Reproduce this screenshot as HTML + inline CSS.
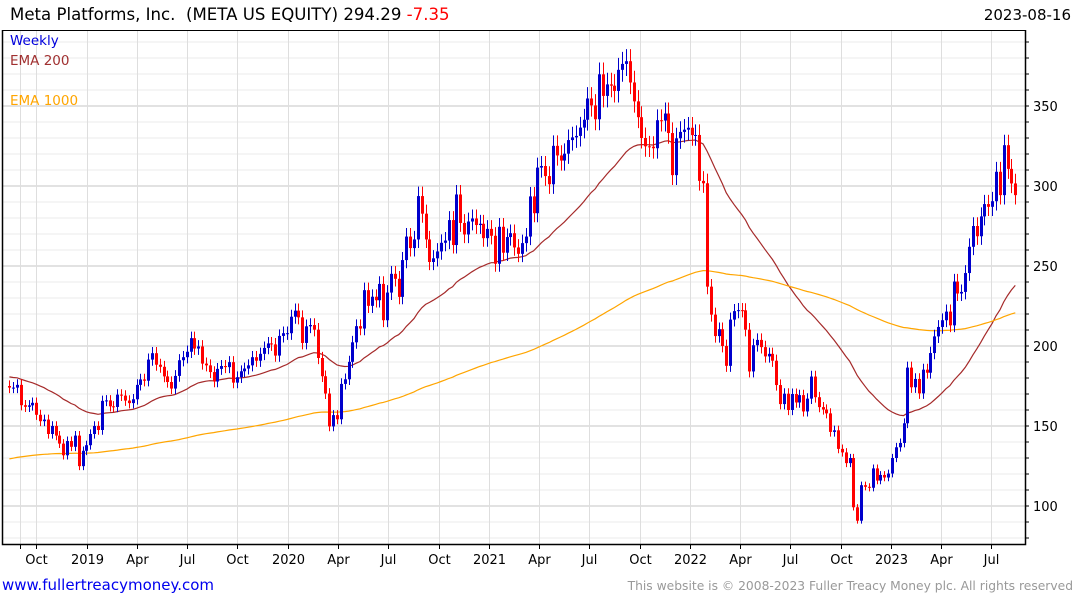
<!DOCTYPE html>
<html><head><meta charset="utf-8">
<style>
body{margin:0;background:#fff;width:1075px;height:600px;overflow:hidden;font-family:"Liberation Sans","DejaVu Sans",sans-serif;}
</style></head>
<body>
<svg id="c" width="1075" height="600" xmlns="http://www.w3.org/2000/svg" style="font-family:'DejaVu Sans','Liberation Sans',sans-serif">
<text x="10" y="20" font-size="16.6" fill="#000" xml:space="preserve" style="white-space:pre">Meta Platforms, Inc.  (META US EQUITY) 294.29 <tspan fill="#ff0000">-7.35</tspan></text>
<text x="1071" y="20" font-size="15" fill="#000" text-anchor="end">2023-08-16</text>
<g id="grid"></g>
<g id="ema"></g>
<g id="candles"></g>
<g id="axes"></g>
<text x="10" y="45" font-size="13.5" fill="#0000dd">Weekly</text>
<text x="10" y="65" font-size="13.5" fill="#a03030">EMA 200</text>
<text x="10" y="105" font-size="13.5" fill="#ffa500">EMA 1000</text>
<text x="2" y="590" font-size="15" fill="#0000ee">www.fullertreacymoney.com</text>
<text x="1073" y="590" font-size="12.3" fill="#999" text-anchor="end">This website is © 2008-2023 Fuller Treacy Money plc. All rights reserved</text>
</svg>
<script>
const closes=[174,174,175.7,163,162,162.9,164.5,157,153,154,145,150,144,139,131.7,140.6,137,144,124.9,134.5,138,
145,150,147.5,165.7,166,162.3,161.9,169.6,169,165.9,164.3,166.7,175.7,179.1,178.3,191.5,195.5,188.3,187,181,177.5,173.4,181.3,191.1,193,196.4,204.9,198.4,199.7,189,187.9,183.7,177.8,185.7,187.5,186.8,189.9,177.1,180.5,184.2,185.9,187.9,193,190.8,195.1,198.8,201.6,201,194,206.3,208,208,
218.3,222.1,217.9,201.9,212.3,213.1,210.2,192.5,181.1,170.3,149.7,156.8,154.2,176.3,179.2,190.1,202.3,212.4,210.9,234.9,225.1,230.8,228.6,238.8,216.1,233.4,245.1,242,230.7,253.7,268.4,261.2,266.6,293.7,282.7,266.6,252.5,254.8,259.1,264.5,265.9,278.7,263.1,294.7,276.9,269.7,277.8,279.7,275.6,276.4,267.4,273.2,
268.9,251.4,274.5,258.3,268.1,270.5,261.6,257.6,264.3,268.4,293.5,283,311.5,312.5,306.2,301.1,325.1,319.1,315.9,320.2,328.7,330.4,331.3,336.5,341.4,354.7,350.4,341.7,369.8,356.3,363.5,362.7,359.4,372.6,376.3,378,364.7,352.9,343,330,324.8,324.6,323.6,341.1,340.9,345.3,333.1,306.8,329.8,333.8,335.2,336.4,
331.8,331.9,303.2,301.7,237.1,219.6,206.2,210.5,200,187.6,216.5,221.8,222.4,222.3,210.2,184.1,200.5,203.8,199.3,193.5,195.1,190.8,175.6,163.7,170.2,160,170,164.7,169.3,159.1,167.1,180.9,168,161.8,160.3,157.9,146.3,147.3,135.7,133.5,126.8,130,99.2,90.8,113,112,111.4,123.5,115.9,119.4,117.8,120.3,
130,136.7,139.4,151.7,186.5,174.2,179.4,170.4,185.2,183.3,195.6,206,211.9,216.1,221.5,212.9,240.3,232.8,233.8,245.6,262,275,268.6,281,288.7,287,290.5,308.9,294.3,325.5,310.7,301.6,294.3];
const yTicks=[100,150,200,250,300,350];
const xTickLabels=["","Oct","2019","Apr","Jul","Oct","2020","Apr","Jul","Oct","2021","Apr","Jul","Oct","2022","Apr","Jul","Oct","2023","Apr","Jul"];
const xTickDates=["2018-09-01","2018-10-01","2019-01-01","2019-04-01","2019-07-01","2019-10-01","2020-01-01","2020-04-01","2020-07-01","2020-10-01","2021-01-01","2021-04-01","2021-07-01","2021-10-01","2022-01-01","2022-04-01","2022-07-01","2022-10-01","2023-01-01","2023-04-01","2023-07-01"];
const firstWeek="2018-08-13";
const emaSeed=[181,129];
const emaPeriods=[40,200];

const NS="http://www.w3.org/2000/svg";
const L=2,R=1025,T=30,B=544;
const y=v=>506-(v-100)*1.6;
const t0=Date.parse("2019-01-01");
const xd=d=>87+(Date.parse(d)-t0)/864e5/365.25*201.1;
const xi=i=>87+(Date.parse(firstWeek)+i*7*864e5-t0)/864e5/365.25*201.1;
function mk(tag,at,parent){const e=document.createElementNS(NS,tag);for(const k in at)e.setAttribute(k,at[k]);parent.appendChild(e);return e;}
const grid=document.getElementById('grid'),axes=document.getElementById('axes'),cg=document.getElementById('candles'),eg=document.getElementById('ema');
for(let v=80;v<=390;v+=10){const yy=y(v);if(yy<T||yy>B)continue;
 const ln=mk('line',{x1:L,x2:R,y1:yy,y2:yy,stroke:v%50==0?'#c4c4c4':'#ebebeb','stroke-width':1},grid);
 
 
 const tk=mk('line',{x1:R,x2:R+4,y1:yy,y2:yy,stroke:'#000'},axes);
 
 
}
xTickDates.forEach((d,i)=>{const xx=Math.round(xd(d))+0.5;
 const ln=mk('line',{x1:xx,x2:xx,y1:T,y2:B,stroke:'#dedede'},grid);
 
 
 const tk=mk('line',{x1:xx,x2:xx,y1:B,y2:B+5,stroke:'#000'},axes);
 
 
 if(xTickLabels[i]){const t=mk('text',{x:xx,y:B+20,'font-size':13,'text-anchor':'middle',fill:'#000'},axes);t.textContent=xTickLabels[i];
 
 }
});
yTicks.forEach(v=>{const t=mk('text',{x:R+8,y:y(v)+5,'font-size':13,fill:'#000'},axes);t.textContent=v;
 
 });
const fr=mk('path',{d:`M${L+0.5},${T} V${B+0.5} H${R+0.5} V${T}`,fill:'none',stroke:'#000','stroke-width':1.5},axes);


const tl=mk('line',{x1:L,x2:R,y1:T+0.5,y2:T+0.5,stroke:'#000'},axes);


const emaColors=['#a52a2a','#ffa500'];
emaPeriods.forEach((p,k)=>{let e=emaSeed[k];const a=2/(p+1);let d='';
 closes.forEach((c,i)=>{e=e+a*(c-e);d+=(i?'L':'M')+xi(i).toFixed(1)+','+y(e).toFixed(1);});
 const pth=mk('path',{d:d,fill:'none',stroke:emaColors[k],'stroke-width':1.2},eg);
 
 
});
closes.forEach((c,i)=>{const o=i?closes[i-1]:c+1;const up=c>=o;const col=up?'#0000cc':'#ff0000';
 const hi=Math.max(o,c)*1.02,lo=Math.min(o,c)*0.98;const xx=Math.round(xi(i))+0.5;
 const g=mk('g',{},cg);
 
 
 mk('line',{x1:xx,x2:xx,y1:y(hi),y2:y(lo),stroke:col,'stroke-width':1},g);
 const top=y(Math.max(o,c)),h=Math.max(1,y(Math.min(o,c))-top);
 mk('rect',{x:xx-1.5,y:top,width:3,height:h,fill:col},g);
});
</script>
</body></html>
